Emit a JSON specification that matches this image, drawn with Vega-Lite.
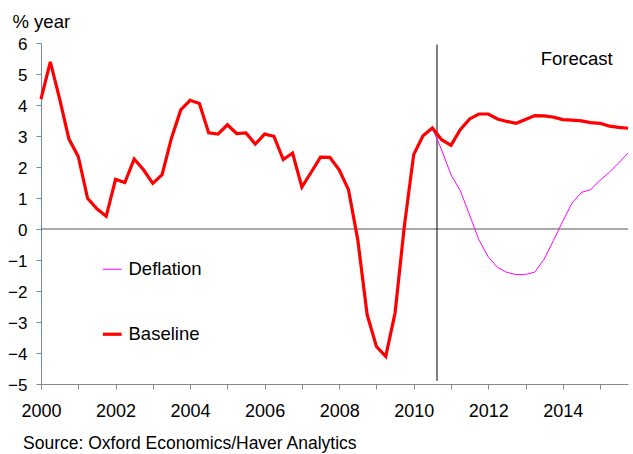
{
  "$schema": "https://vega.github.io/schema/vega-lite/v6.json",
  "width": 587,
  "height": 341,
  "autosize": "none",
  "padding": {"left": 41, "top": 43, "right": 5, "bottom": 70},
  "config": {"font": "Liberation Sans", "view": {"stroke": null}},
  "title": {"text": "Source: Oxford Economics/Haver Analytics", "orient": "bottom", "anchor": "start", "frame": "group", "fontSize": 17.5, "fontWeight": "normal", "offset": 15, "dx": -18, "color": "#000000"},
  "resolve": {"axis": {"x": "independent", "y": "independent"}},
  "datasets": {
    "series": [
      {"t": 2000.00, "series": "Baseline", "v": 4.19},
      {"t": 2000.25, "series": "Baseline", "v": 5.39},
      {"t": 2000.50, "series": "Baseline", "v": 4.2},
      {"t": 2000.75, "series": "Baseline", "v": 2.9},
      {"t": 2001.00, "series": "Baseline", "v": 2.34},
      {"t": 2001.25, "series": "Baseline", "v": 0.99},
      {"t": 2001.50, "series": "Baseline", "v": 0.65},
      {"t": 2001.75, "series": "Baseline", "v": 0.41},
      {"t": 2002.00, "series": "Baseline", "v": 1.6},
      {"t": 2002.25, "series": "Baseline", "v": 1.5},
      {"t": 2002.50, "series": "Baseline", "v": 2.26},
      {"t": 2002.75, "series": "Baseline", "v": 1.91},
      {"t": 2003.00, "series": "Baseline", "v": 1.47},
      {"t": 2003.25, "series": "Baseline", "v": 1.75},
      {"t": 2003.50, "series": "Baseline", "v": 2.93},
      {"t": 2003.75, "series": "Baseline", "v": 3.84},
      {"t": 2004.00, "series": "Baseline", "v": 4.15},
      {"t": 2004.25, "series": "Baseline", "v": 4.05},
      {"t": 2004.50, "series": "Baseline", "v": 3.1},
      {"t": 2004.75, "series": "Baseline", "v": 3.06},
      {"t": 2005.00, "series": "Baseline", "v": 3.36},
      {"t": 2005.25, "series": "Baseline", "v": 3.08},
      {"t": 2005.50, "series": "Baseline", "v": 3.1},
      {"t": 2005.75, "series": "Baseline", "v": 2.74},
      {"t": 2006.00, "series": "Baseline", "v": 3.06},
      {"t": 2006.25, "series": "Baseline", "v": 2.99},
      {"t": 2006.50, "series": "Baseline", "v": 2.24},
      {"t": 2006.75, "series": "Baseline", "v": 2.45},
      {"t": 2007.00, "series": "Baseline", "v": 1.35},
      {"t": 2007.25, "series": "Baseline", "v": 1.83},
      {"t": 2007.50, "series": "Baseline", "v": 2.32},
      {"t": 2007.75, "series": "Baseline", "v": 2.31},
      {"t": 2008.00, "series": "Baseline", "v": 1.91},
      {"t": 2008.25, "series": "Baseline", "v": 1.27},
      {"t": 2008.50, "series": "Baseline", "v": -0.35},
      {"t": 2008.75, "series": "Baseline", "v": -2.76},
      {"t": 2009.00, "series": "Baseline", "v": -3.79},
      {"t": 2009.25, "series": "Baseline", "v": -4.11},
      {"t": 2009.50, "series": "Baseline", "v": -2.71},
      {"t": 2009.75, "series": "Baseline", "v": 0.1},
      {"t": 2010.00, "series": "Baseline", "v": 2.4},
      {"t": 2010.25, "series": "Baseline", "v": 3.01},
      {"t": 2010.50, "series": "Baseline", "v": 3.26},
      {"t": 2010.75, "series": "Baseline", "v": 2.88},
      {"t": 2011.00, "series": "Baseline", "v": 2.7},
      {"t": 2011.25, "series": "Baseline", "v": 3.2},
      {"t": 2011.50, "series": "Baseline", "v": 3.55},
      {"t": 2011.75, "series": "Baseline", "v": 3.71},
      {"t": 2012.00, "series": "Baseline", "v": 3.71},
      {"t": 2012.25, "series": "Baseline", "v": 3.55},
      {"t": 2012.50, "series": "Baseline", "v": 3.47},
      {"t": 2012.75, "series": "Baseline", "v": 3.41},
      {"t": 2013.00, "series": "Baseline", "v": 3.53},
      {"t": 2013.25, "series": "Baseline", "v": 3.66},
      {"t": 2013.50, "series": "Baseline", "v": 3.65},
      {"t": 2013.75, "series": "Baseline", "v": 3.61},
      {"t": 2014.00, "series": "Baseline", "v": 3.53},
      {"t": 2014.25, "series": "Baseline", "v": 3.51},
      {"t": 2014.50, "series": "Baseline", "v": 3.49},
      {"t": 2014.75, "series": "Baseline", "v": 3.43},
      {"t": 2015.00, "series": "Baseline", "v": 3.41},
      {"t": 2015.25, "series": "Baseline", "v": 3.32},
      {"t": 2015.50, "series": "Baseline", "v": 3.28},
      {"t": 2015.75, "series": "Baseline", "v": 3.25},
      {"t": 2010.50, "series": "Deflation", "v": 3.26},
      {"t": 2010.75, "series": "Deflation", "v": 2.55},
      {"t": 2011.00, "series": "Deflation", "v": 1.75},
      {"t": 2011.25, "series": "Deflation", "v": 1.24},
      {"t": 2011.50, "series": "Deflation", "v": 0.45},
      {"t": 2011.75, "series": "Deflation", "v": -0.35},
      {"t": 2012.00, "series": "Deflation", "v": -0.9},
      {"t": 2012.25, "series": "Deflation", "v": -1.24},
      {"t": 2012.50, "series": "Deflation", "v": -1.4},
      {"t": 2012.75, "series": "Deflation", "v": -1.47},
      {"t": 2013.00, "series": "Deflation", "v": -1.47},
      {"t": 2013.25, "series": "Deflation", "v": -1.39},
      {"t": 2013.50, "series": "Deflation", "v": -0.97},
      {"t": 2013.75, "series": "Deflation", "v": -0.37},
      {"t": 2014.00, "series": "Deflation", "v": 0.25},
      {"t": 2014.25, "series": "Deflation", "v": 0.84},
      {"t": 2014.50, "series": "Deflation", "v": 1.18},
      {"t": 2014.75, "series": "Deflation", "v": 1.27},
      {"t": 2015.00, "series": "Deflation", "v": 1.57},
      {"t": 2015.25, "series": "Deflation", "v": 1.83},
      {"t": 2015.50, "series": "Deflation", "v": 2.13},
      {"t": 2015.75, "series": "Deflation", "v": 2.45}
    ]
  },
  "layer": [
    {
      "data": {"values": [{"v": 0}]},
      "mark": {"type": "rule", "color": "#555555", "strokeWidth": 1},
      "encoding": {"y": {"field": "v", "type": "quantitative", "axis": null}}
    },
    {
      "data": {"values": [{"t": 2010.625, "v1": 5.95, "v2": -4.9}]},
      "mark": {"type": "rule", "color": "#000000", "strokeWidth": 1},
      "encoding": {
        "x": {"field": "t", "type": "quantitative", "axis": null},
        "y": {"field": "v1", "type": "quantitative", "axis": null},
        "y2": {"field": "v2"}
      }
    },
    {
      "data": {"name": "series"},
      "transform": [{"filter": "datum.series === 'Deflation'"}],
      "mark": {"type": "line", "strokeWidth": 1},
      "encoding": {
        "x": {"field": "t", "type": "quantitative", "axis": null},
        "y": {"field": "v", "type": "quantitative", "axis": null},
        "color": {"field": "series", "type": "nominal"}
      }
    },
    {
      "data": {"name": "series"},
      "transform": [{"filter": "datum.series === 'Baseline'"}],
      "mark": {"type": "line", "strokeWidth": 3.2},
      "encoding": {
        "x": {
          "field": "t", "type": "quantitative",
          "scale": {"domain": [2000, 2015.75], "nice": false, "zero": false},
          "axis": {
            "values": [2000, 2001, 2002, 2003, 2004, 2005, 2006, 2007, 2008, 2009, 2010, 2011, 2012, 2013, 2014, 2015],
            "format": "d",
            "labelExpr": "datum.value % 2 === 0 ? datum.label : ''",
            "grid": false, "title": null, "tickSize": 5,
            "domainColor": "#888888", "tickColor": "#888888",
            "labelFontSize": 18, "labelColor": "#000000", "labelPadding": 13, "labelFlush": false
          }
        },
        "y": {
          "field": "v", "type": "quantitative",
          "scale": {"domain": [-5, 6], "nice": false, "zero": false},
          "axis": {
            "values": [-5, -4, -3, -2, -1, 0, 1, 2, 3, 4, 5, 6],
            "grid": false, "tickSize": 5,
            "domainColor": "#6f8ca3", "tickColor": "#6f8ca3",
            "labelFontSize": 17, "labelColor": "#000000", "labelPadding": 9, "labelOffset": 1,
            "title": "% year", "titleAngle": 0, "titleX": -29, "titleY": -16,
            "titleAlign": "left", "titleBaseline": "alphabetic",
            "titleFontSize": 18.5, "titleFontWeight": "normal", "titleColor": "#000000"
          }
        },
        "color": {
          "field": "series", "type": "nominal",
          "scale": {"domain": ["Deflation", "Baseline"], "range": ["#ff00ff", "#ff0000"]},
          "legend": {
            "orient": "none", "legendX": 62, "legendY": 217, "title": null,
            "symbolType": "stroke", "symbolSize": 350, "rowPadding": 46,
            "labelFontSize": 18.5, "labelColor": "#000000", "labelOffset": 7,
            "encode": {"symbols": {"update": {"strokeWidth": {"signal": "datum.value === 'Baseline' ? 3.2 : 1"}}}}
          }
        }
      }
    },
    {
      "data": {"values": [{"t": 2015.34, "v": 5.29, "label": "Forecast"}]},
      "mark": {"type": "text", "align": "right", "baseline": "alphabetic", "fontSize": 18.5, "color": "#000000"},
      "encoding": {
        "x": {"field": "t", "type": "quantitative", "axis": null},
        "y": {"field": "v", "type": "quantitative", "axis": null},
        "text": {"field": "label"}
      }
    }
  ]
}
